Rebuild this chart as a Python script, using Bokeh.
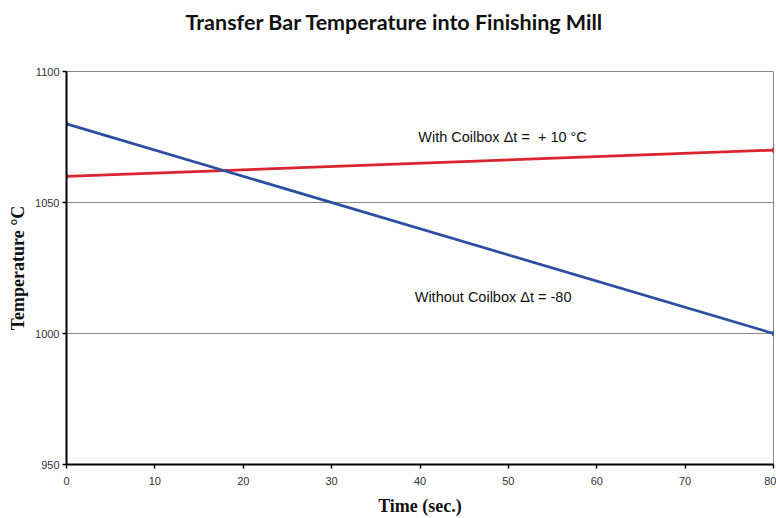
from bokeh.plotting import figure
from bokeh.models import Label, FixedTicker, Range1d, Title
from bokeh.embed import file_html
from bokeh.resources import INLINE

# Data
time_s = [0, 80]
with_coilbox = [1060, 1070]
without_coilbox = [1080, 1000]
x_ticks = [0, 10, 20, 30, 40, 50, 60, 70, 80]
y_ticks = [950, 1000, 1050, 1100]
title_text = "Transfer Bar Temperature into Finishing Mill"
x_label = "Time (sec.)"
y_label = "Temperature °C"
note_with = "With Coilbox \u0394t =\u00a0 + 10 °C"
note_without = "Without Coilbox \u0394t = -80"

p = figure(width=776, height=518, output_backend="svg", toolbar_location=None, title=None,
           x_range=Range1d(0, 80), y_range=Range1d(950, 1100),
           min_border_left=66, min_border_right=3, min_border_top=71, min_border_bottom=53)

# spacer between title and plot frame, then the title itself
p.add_layout(Title(text=" ", text_font_size="20px", standoff=13), "above")
p.add_layout(Title(text=title_text, align="left", offset=119, standoff=0,
                   text_font="Lato", text_font_size="21.5px", text_font_style="bold",
                   text_color="#111111"), "above")

p.background_fill_color = "white"
p.border_fill_color = "white"
p.outline_line_color = "#888888"
p.outline_line_width = 1

p.xgrid.grid_line_color = None
p.ygrid.grid_line_color = "#888888"
p.ygrid.grid_line_width = 1

p.xaxis.ticker = FixedTicker(ticks=x_ticks)
p.yaxis.ticker = FixedTicker(ticks=y_ticks)
for ax in (p.xaxis[0], p.yaxis[0]):
    ax.axis_line_color = "black"
    ax.axis_line_width = 2
    ax.major_tick_line_color = "black"
    ax.major_tick_line_width = 1.5
    ax.major_tick_out = 4
    ax.major_tick_in = 0
    ax.minor_tick_line_color = None
    ax.major_label_text_font = "Liberation Sans"
    ax.major_label_text_font_size = "11px"
    ax.major_label_text_color = "#333333"
    ax.axis_label_text_font = "Liberation Serif"
    ax.axis_label_text_font_style = "bold"
    ax.axis_label_text_font_size = "18px"
    ax.axis_label_text_color = "#111111"

p.xaxis.major_label_standoff = 8
p.yaxis.major_label_standoff = 3
p.xaxis.axis_label = x_label
p.yaxis.axis_label = y_label
p.xaxis.axis_label_standoff = 8
p.yaxis.axis_label_standoff = 4

p.line(time_s, with_coilbox, line_color="#dc2430", line_width=2.7)
p.line(time_s, without_coilbox, line_color="#2b4ea2", line_width=2.7)
p.scatter(time_s, with_coilbox, marker="diamond", size=6, color="#dc2430")
p.scatter(time_s, without_coilbox, marker="diamond", size=6, color="#2b4ea2")

p.add_layout(Label(x=39.8, y=1074.9, text=note_with, text_font="Liberation Sans",
                   text_font_size="14.5px", text_baseline="middle", text_color="#111111"))
p.add_layout(Label(x=39.4, y=1014.1, text=note_without, text_font="Liberation Sans",
                   text_font_size="14.5px", text_baseline="middle", text_color="#111111"))

open("out.html", "w").write(file_html(p, INLINE))
